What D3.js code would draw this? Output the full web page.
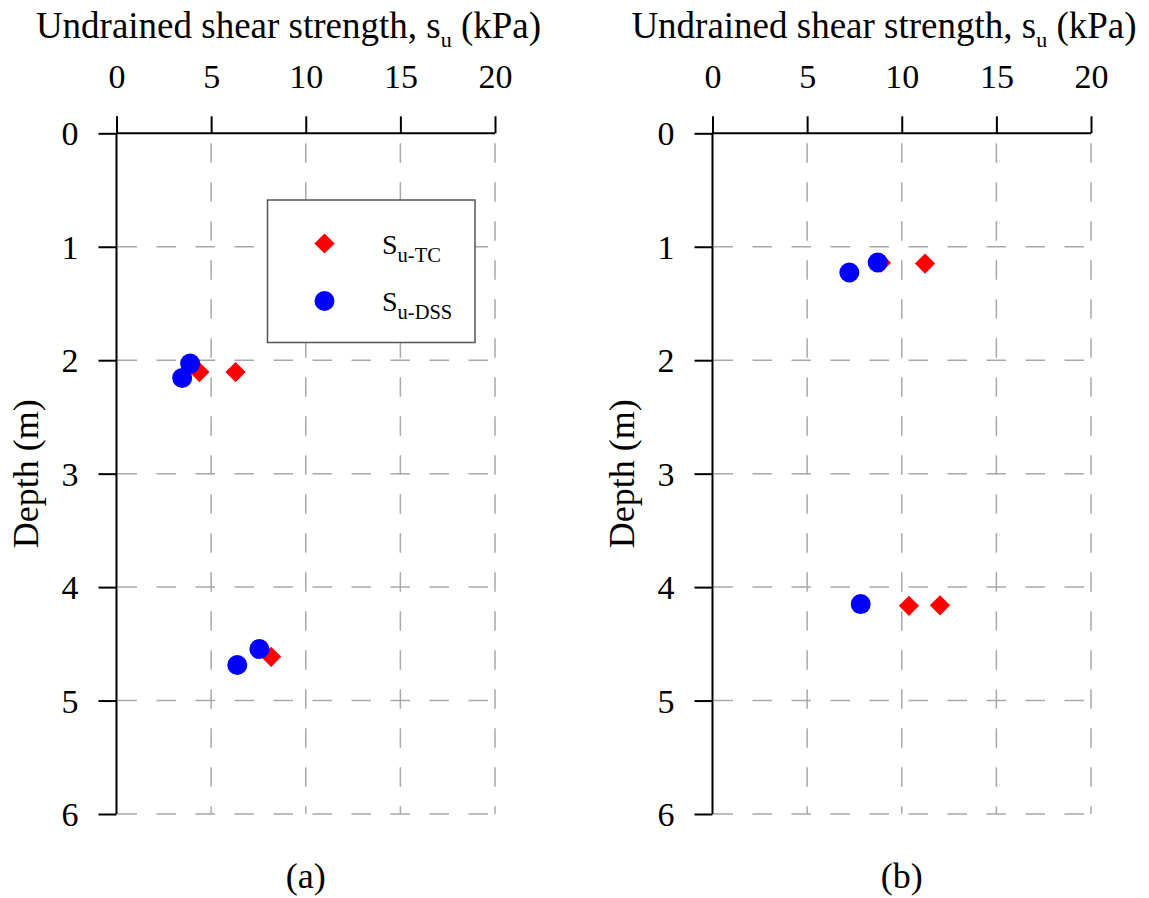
<!DOCTYPE html>
<html>
<head>
<meta charset="utf-8">
<script src="https://cdn.jsdelivr.net/npm/d3@7"></script>
<style>
  html, body { margin: 0; padding: 0; background: #fff; }
  svg { display: block; font-family: "Liberation Serif", "Times New Roman", serif; }
</style>
</head>
<body>
<svg id="chart" width="1149" height="898"></svg>
<script>
// Undrained shear strength profiles (kPa) against depth (m)
const xTicks = [0, 5, 10, 15, 20];
const yTicks = [0, 1, 2, 3, 4, 5, 6];
const panelLabels = ["(a)", "(b)"];

// Panel (a)
const aTcSu = [4.38, 6.29, 8.17];
const aTcDepth = [2.105, 2.105, 4.614];
const aDssSu = [3.89, 3.47, 7.55, 6.38];
const aDssDepth = [2.03, 2.156, 4.546, 4.687];

// Panel (b)
const bTcSu = [8.9, 11.23, 10.38, 12.02];
const bTcDepth = [1.14, 1.148, 4.165, 4.16];
const bDssSu = [8.73, 7.23, 7.83];
const bDssDepth = [1.139, 1.227, 4.15];

const TC_COLOR = "#ff0000";
const DSS_COLOR = "#0000ff";
const TITLE_SIZE = 37;
const TICK_SIZE = 34;

const svg = d3.select("#chart");

const panels = [
  { left: 116.5, right: 495, titleX: 288.5, label: panelLabels[0],
    tc: aTcSu.map((s, i) => ({ su: s, z: aTcDepth[i] })),
    dss: aDssSu.map((s, i) => ({ su: s, z: aDssDepth[i] })),
    legend: true },
  { left: 712.5, right: 1091, titleX: 884, label: panelLabels[1],
    tc: bTcSu.map((s, i) => ({ su: s, z: bTcDepth[i] })),
    dss: bDssSu.map((s, i) => ({ su: s, z: bDssDepth[i] })),
    legend: false }
];

const plotTop = 133.3, plotBottom = 814;
const y = d3.scaleLinear().domain([0, 6]).range([plotTop, plotBottom]);

const diamond = d3.symbol().type(d3.symbolSquare).size(205);

panels.forEach(p => {
  const x = d3.scaleLinear().domain([0, 20]).range([p.left, p.right]);
  const g = svg.append("g");

  // dashed grid
  g.append("g").selectAll("line")
    .data(xTicks.filter(d => d > 0))
    .join("line")
    .attr("x1", d => x(d)).attr("x2", d => x(d))
    .attr("y1", y(0) + 1).attr("y2", y(6))
    .attr("stroke", "#a8a8a8").attr("stroke-width", 1.5)
    .attr("stroke-dasharray", "19.5,19.5").attr("stroke-dashoffset", 30);
  g.append("g").selectAll("line")
    .data(yTicks.filter(d => d > 0))
    .join("line")
    .attr("x1", x(0) + 1).attr("x2", x(20))
    .attr("y1", d => y(d)).attr("y2", d => y(d))
    .attr("stroke", "#a8a8a8").attr("stroke-width", 1.5)
    .attr("stroke-dasharray", "19.5,19.5").attr("stroke-dashoffset", 0);

  // top axis
  const xAxis = d3.axisTop(x).tickValues(xTicks).tickSize(17).tickPadding(30)
    .tickFormat(d3.format("d"));
  const gx = g.append("g").attr("transform", `translate(0,${plotTop})`).call(xAxis);
  gx.select(".domain").attr("d", `M${x(0)},0H${x(20)}`).attr("stroke", "#000").attr("stroke-width", 2);
  gx.selectAll(".tick line").attr("stroke", "#000").attr("stroke-width", 2);
  gx.selectAll(".tick text").attr("font-size", TICK_SIZE).attr("fill", "#000")
    .attr("font-family", "Liberation Serif").attr("dy", 0).attr("y", -45.5);

  // left axis
  const yAxis = d3.axisLeft(y).tickValues(yTicks).tickSize(18).tickPadding(20)
    .tickFormat(d3.format("d"));
  const gy = g.append("g").attr("transform", `translate(${x(0)},0)`).call(yAxis);
  gy.select(".domain").attr("d", `M0,${y(0)}V${y(6)}`).attr("stroke", "#000").attr("stroke-width", 2);
  gy.selectAll(".tick line").attr("stroke", "#000").attr("stroke-width", 2);
  gy.selectAll(".tick text").attr("font-size", TICK_SIZE).attr("fill", "#000")
    .attr("font-family", "Liberation Serif").attr("dy", "0.34em");

  // axis titles
  const t = g.append("text").attr("x", p.titleX).attr("y", 37.5)
    .attr("text-anchor", "middle").attr("font-size", TITLE_SIZE).attr("fill", "#000");
  t.append("tspan").text("Undrained shear strength, s");
  t.append("tspan").attr("font-size", 22).attr("dy", 9.5).text("u");
  t.append("tspan").attr("dy", -9.5).text(" (kPa)");

  g.append("text")
    .attr("transform", `translate(${x(0) - 79},${(plotTop + plotBottom) / 2}) rotate(-90)`)
    .attr("text-anchor", "middle").attr("font-size", 36).attr("fill", "#000")
    .text("Depth (m)");

  g.append("text").attr("x", (p.left + p.right) / 2).attr("y", 888)
    .attr("text-anchor", "middle").attr("font-size", 36).attr("fill", "#000")
    .text(p.label);

  // data points: triaxial compression (diamonds) under DSS (circles)
  g.append("g").selectAll("path")
    .data(p.tc)
    .join("path")
    .attr("d", diamond)
    .attr("transform", d => `translate(${x(d.su)},${y(d.z)}) rotate(45)`)
    .attr("fill", TC_COLOR);
  g.append("g").selectAll("circle")
    .data(p.dss)
    .join("circle")
    .attr("cx", d => x(d.su)).attr("cy", d => y(d.z)).attr("r", 10)
    .attr("fill", DSS_COLOR);

  if (p.legend) {
    const lg = g.append("g");
    lg.append("rect").attr("x", 267.5).attr("y", 200).attr("width", 207.5).attr("height", 142.5)
      .attr("fill", "#fff").attr("stroke", "#555").attr("stroke-width", 1.5);
    lg.append("path").attr("d", diamond)
      .attr("transform", "translate(324.5,243.5) rotate(45)").attr("fill", TC_COLOR);
    lg.append("circle").attr("cx", 324.5).attr("cy", 301).attr("r", 10).attr("fill", DSS_COLOR);
    const entries = [["u-TC", 253.5], ["u-DSS", 310.5]];
    entries.forEach(([sub, by]) => {
      const tx = lg.append("text").attr("x", 382).attr("y", by)
        .attr("font-size", 28).attr("fill", "#000");
      tx.append("tspan").text("S");
      tx.append("tspan").attr("font-size", 20.5).attr("dy", 8.5).text(sub);
    });
  }
});
</script>
</body>
</html>
